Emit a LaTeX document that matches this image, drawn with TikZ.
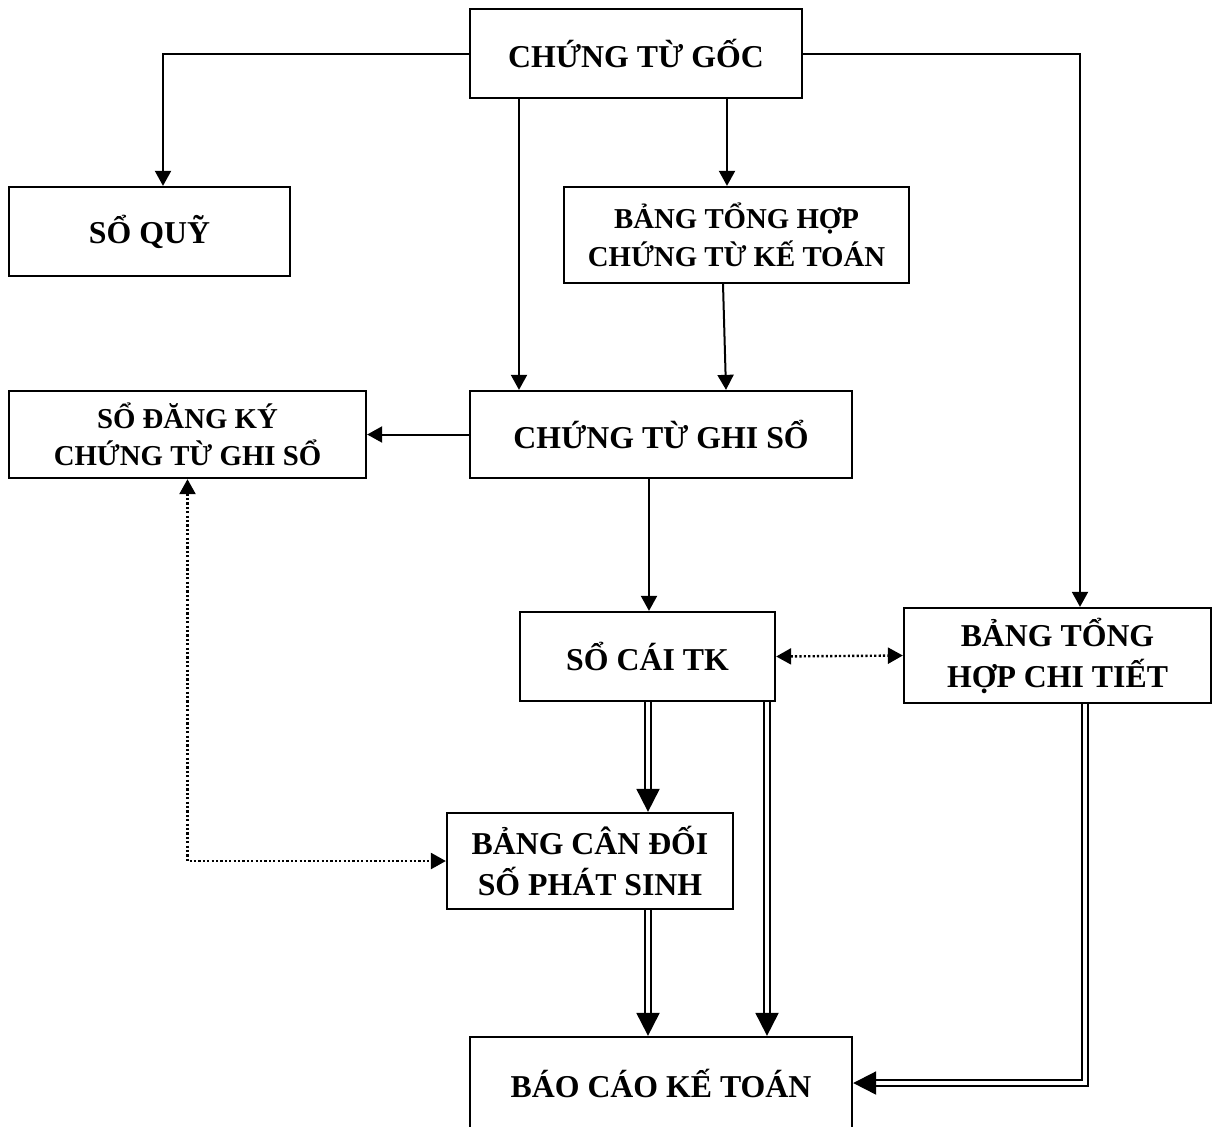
\documentclass[tikz,border=0pt]{standalone}
\usepackage{fontspec}
\setmainfont{Liberation Serif}
\usetikzlibrary{arrows.meta,calc}

\tikzset{
  box/.style={draw, line width=1.15pt, inner sep=0pt, align=center,
              font=\bfseries\fontsize{15.9pt}{20.5pt}\selectfont},
  smallbox/.style={box, font=\bfseries\fontsize{14.4pt}{18.75pt}\selectfont},
  arr/.style={line width=1pt, -{Triangle[length=7.5pt,width=8pt]}},
  dots/.style={line width=1.2pt, dash pattern=on 1.1pt off 1.1pt,
               {Triangle[length=7.5pt,width=8pt]}-{Triangle[length=7.5pt,width=8pt]}},
  dbl/.style={double, double distance=1.6pt, line width=1pt, shorten >=10pt},
  bigtip/.style={line width=1pt, -{Triangle[length=11.5pt,width=11.5pt]}}
}

\begin{document}
\begin{tikzpicture}[x=0.5pt,y=-0.5pt]
\useasboundingbox (0,0) rectangle (1213,1126);

% boxes
\node[box, minimum width=166pt, minimum height=44.5pt] (ctg) at (636,53.5) {CHỨNG TỪ GỐC};
\node[box, minimum width=140.5pt, minimum height=44.5pt] (squy) at (149.5,231.5) {SỔ QUỸ};
\node[smallbox, minimum width=172.5pt, minimum height=48pt] (bthkt) at (736.5,235) {BẢNG TỔNG HỢP\\CHỨNG TỪ KẾ TOÁN};
\node[smallbox, minimum width=178.5pt, minimum height=43.5pt] (sdk) at (187.5,434.5) {SỔ ĐĂNG KÝ\\CHỨNG TỪ GHI SỔ};
\node[box, minimum width=191pt, minimum height=43.5pt] (ctgs) at (661,434.5) {CHỨNG TỪ GHI SỔ};
\node[box, minimum width=127.5pt, minimum height=44.5pt] (socai) at (647.5,656.5) {SỔ CÁI TK};
\node[box, minimum width=153.5pt, minimum height=47.5pt] (bthct) at (1057.5,655.5) {BẢNG TỔNG\\HỢP CHI TIẾT};
\node[box, minimum width=143pt, minimum height=48pt] (bcd) at (590,861) {BẢNG CÂN ĐỐI\\SỐ PHÁT SINH};
\node[box, minimum width=191pt, minimum height=46pt] (bckt) at (661,1083) {BÁO CÁO KẾ TOÁN};

% vertical guide positions of the connectors
\coordinate (xq)  at (163,0);
\coordinate (xr)  at (1080,0);
\coordinate (xa)  at (519,0);
\coordinate (xb)  at (727,0);
\coordinate (xb1) at (723,0);
\coordinate (xb2) at (726,0);
\coordinate (xc)  at (649,0);
\coordinate (xd)  at (648,0);
\coordinate (xe)  at (767,0);
\coordinate (xf)  at (1085,0);

% single arrows
\draw[arr] (ctg.west) -| (squy.north -| xq);
\draw[arr] (ctg.east) -| (bthct.north -| xr);
\draw[arr] (ctg.south -| xa) -- (ctgs.north -| xa);
\draw[arr] (ctg.south -| xb) -- (bthkt.north -| xb);
\draw[arr] (bthkt.south -| xb1) -- (ctgs.north -| xb2);
\draw[arr] (ctgs.west) -- (sdk.east);
\draw[arr] (ctgs.south -| xc) -- (socai.north -| xc);

% dotted cross-checks
\draw[dots] (socai.east) -- (bthct.west);
\draw[dots] (sdk.south) |- (bcd.west);

% double-line arrows
\draw[dbl] (socai.south -| xd) -- (bcd.north -| xd);
\draw[bigtip] ($(bcd.north -| xd)+(0,-12)$) -- (bcd.north -| xd);

\draw[dbl] (socai.south -| xe) -- (bckt.north -| xe);
\draw[bigtip] ($(bckt.north -| xe)+(0,-12)$) -- (bckt.north -| xe);

\draw[dbl] (bcd.south -| xd) -- (bckt.north -| xd);
\draw[bigtip] ($(bckt.north -| xd)+(0,-12)$) -- (bckt.north -| xd);

\draw[dbl] (bthct.south -| xf) |- (bckt.east);
\draw[bigtip] ($(bckt.east)+(12,0)$) -- (bckt.east);
\end{tikzpicture}
\end{document}
